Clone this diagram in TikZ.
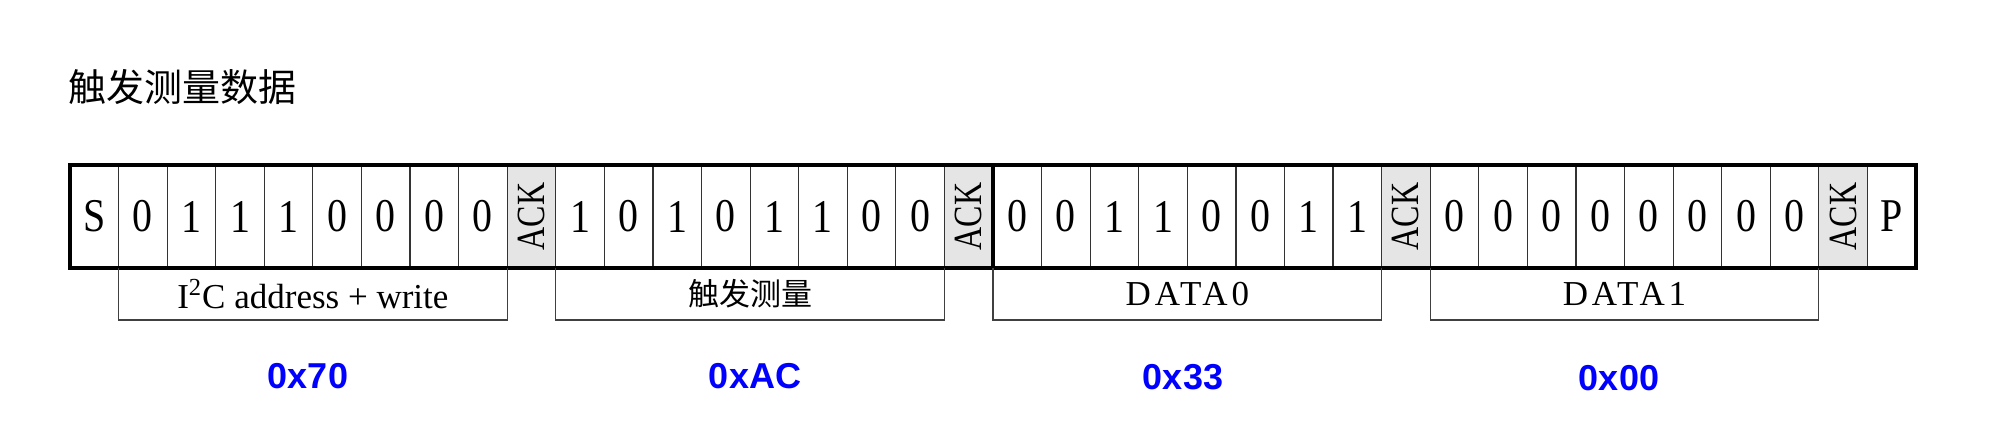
\documentclass[tikz,border=0pt]{standalone}
\usepackage{fontspec}
\setmainfont{Liberation Serif}
\newfontfamily\cjk{Noto Sans CJK SC}
\newfontfamily\hexfont{Liberation Sans}
\newfontfamily\spacedfont[LetterSpace=11]{Liberation Serif}
\begin{document}
\begin{tikzpicture}[x=0.5pt,y=-0.5pt,
  cell/.style={draw=black!80, line width=0.6pt, minimum width=24.29pt, minimum height=51.5pt,
    inner sep=0pt, outer sep=0pt, font=\fontsize{23.5}{24}\selectfont},
  ackcell/.style={cell, fill=black!10, rotate=90, minimum width=51.5pt, minimum height=24.29pt,
    font=\fontsize{20}{20}\selectfont},
  frame/.style={draw=black, line width=2pt},
  bracket/.style={draw=black!75, line width=0.6pt},
  lbl/.style={font=\fontsize{17.5}{18}\selectfont, inner sep=0pt},
  cjklbl/.style={font=\cjk\fontsize{15.5}{16}\selectfont, inner sep=0pt},
  hex/.style={font=\hexfont\bfseries\fontsize{18}{18}\selectfont, text=blue, inner sep=0pt}]
\fill[white] (0,0) rectangle (1991,426);
\useasboundingbox (0,0) rectangle (1991,426);

\node[anchor=west, font=\cjk\fontsize{19}{19}\selectfont, inner sep=0pt] (title) at (68,87) {触发测量数据};

\foreach \i/\t in {0/S,1/0,2/1,3/1,4/1,5/0,6/0,7/0,8/0,
  10/1,11/0,12/1,13/0,14/1,15/1,16/0,17/0,
  19/0,20/0,21/1,22/1,23/0,24/0,25/1,26/1,
  28/0,29/0,30/0,31/0,32/0,33/0,34/0,35/0,37/P}
  \node[cell] (c\i) at ({70+(\i+0.5)*48.579},216.5) {\scalebox{0.85}[1]{\t}};
\foreach \i in {9,18,27,36}
  \node[ackcell] (c\i) at ({70+(\i+0.5)*48.579},216.5) {\scalebox{0.8}[1]{ACK}};

\draw[frame] (c0.north west) rectangle (c19.south west);
\draw[frame] (c19.north west) rectangle (c37.south east);

% brackets
\draw[bracket] (c1.south west) -- ++(0,52) -| (c8.south east);
\draw[bracket] (c10.south west) -- ++(0,52) -| (c17.south east);
\draw[bracket] (c19.south west) -- ++(0,52) -| (c26.south east);
\draw[bracket] (c28.south west) -- ++(0,52) -| (c35.south east);

\node[lbl] (l1) at (312.9,294) {I\textsuperscript{2}C address + write};
\node[cjklbl] (l2) at (750.1,294) {触发测量};
\node[lbl, font=\spacedfont\fontsize{17.5}{18}\selectfont] (l3) at (1187.4,294) {DATA0};
\node[lbl, font=\spacedfont\fontsize{17.5}{18}\selectfont] (l4) at (1624.5,294) {DATA1};

\node[hex] (h1) at (308,376) {0x70};
\node[hex] (h2) at (755,376) {0xAC};
\node[hex] (h3) at (1183,377) {0x33};
\node[hex] (h4) at (1619,378) {0x00};
\end{tikzpicture}
\end{document}
